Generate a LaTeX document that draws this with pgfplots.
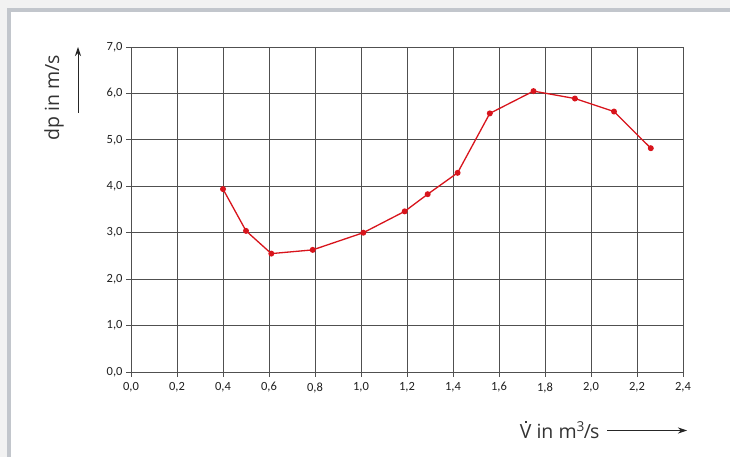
\documentclass[border=0pt]{standalone}
\usepackage{pgfplots}
\pgfplotsset{compat=1.18}
\usepackage{fontspec}
\setmainfont{Open Sans}
\newfontfamily\tickfont{Carlito}
\usetikzlibrary{arrows.meta}
\definecolor{bgout}{HTML}{F2F2F2}
\definecolor{frame}{HTML}{C2C6CC}
\definecolor{gridc}{HTML}{505050}
\definecolor{curve}{HTML}{D8141C}
% V with a dot above, the dot drawn as a small rule
\newcommand{\Vdot}{\ooalign{V\cr\hidewidth\raisebox{0.8em}{\rule{2.2pt}{2.2pt}}\hidewidth\cr}}

\begin{document}
\begin{tikzpicture}[x=1pt,y=1pt]
\useasboundingbox (0,0) rectangle (730,457);
\fill[bgout] (0,0) rectangle (730,457);
\fill[frame] (7,0) rectangle (730,449);
\fill[white] (11,0) rectangle (730,445);
\begin{axis}[
    scale only axis,
    width=552pt, height=325pt,
    at={(131pt,85pt)}, anchor=south west,
    xmin=0, xmax=2.4, ymin=0, ymax=7,
    xtick={0,0.2,...,2.41}, ytick={0,1,...,7},
    grid=major,
    grid style={gridc, line width=0.9pt},
    axis line style={gridc, line width=0.9pt},
    tick style={gridc, line width=0.9pt},
    tick align=outside, major tick length=5pt,
    xtick pos=bottom, ytick pos=left,
    xticklabel style={yshift=-2pt},
    ticklabel style={font=\tickfont\fontsize{12.5}{14}\selectfont, text=black!88},
    /pgf/number format/.cd, use comma, fixed, fixed zerofill, precision=1, assume math mode=true,
]
\addplot[curve, line width=1.3pt, mark=*, mark size=2.3pt] coordinates {
(0.40,3.94) (0.50,3.04) (0.61,2.55) (0.79,2.63) (1.01,3.00) (1.19,3.46)
(1.29,3.83) (1.42,4.29) (1.56,5.57) (1.75,6.05) (1.93,5.89) (2.10,5.61) (2.26,4.82)
};
\end{axis}
\node[rotate=90, font=\fontsize{19.5}{22}\selectfont, text=black!80] at (54,359) {dp in m/s};
\draw[black!85, line width=1pt, -{Stealth[length=9pt,width=6pt]}] (78,344) -- (78,410);
\node[font=\fontsize{19.5}{22}\selectfont, text=black!80, anchor=east] at (603,27) {\Vdot{} in m\textsuperscript{3}\kern-0.05em/\kern-0.05em s};
\draw[black!85, line width=1pt, -{Stealth[length=9pt,width=6pt]}] (607,26.5) -- (687,26.5);
\end{tikzpicture}
\end{document}
